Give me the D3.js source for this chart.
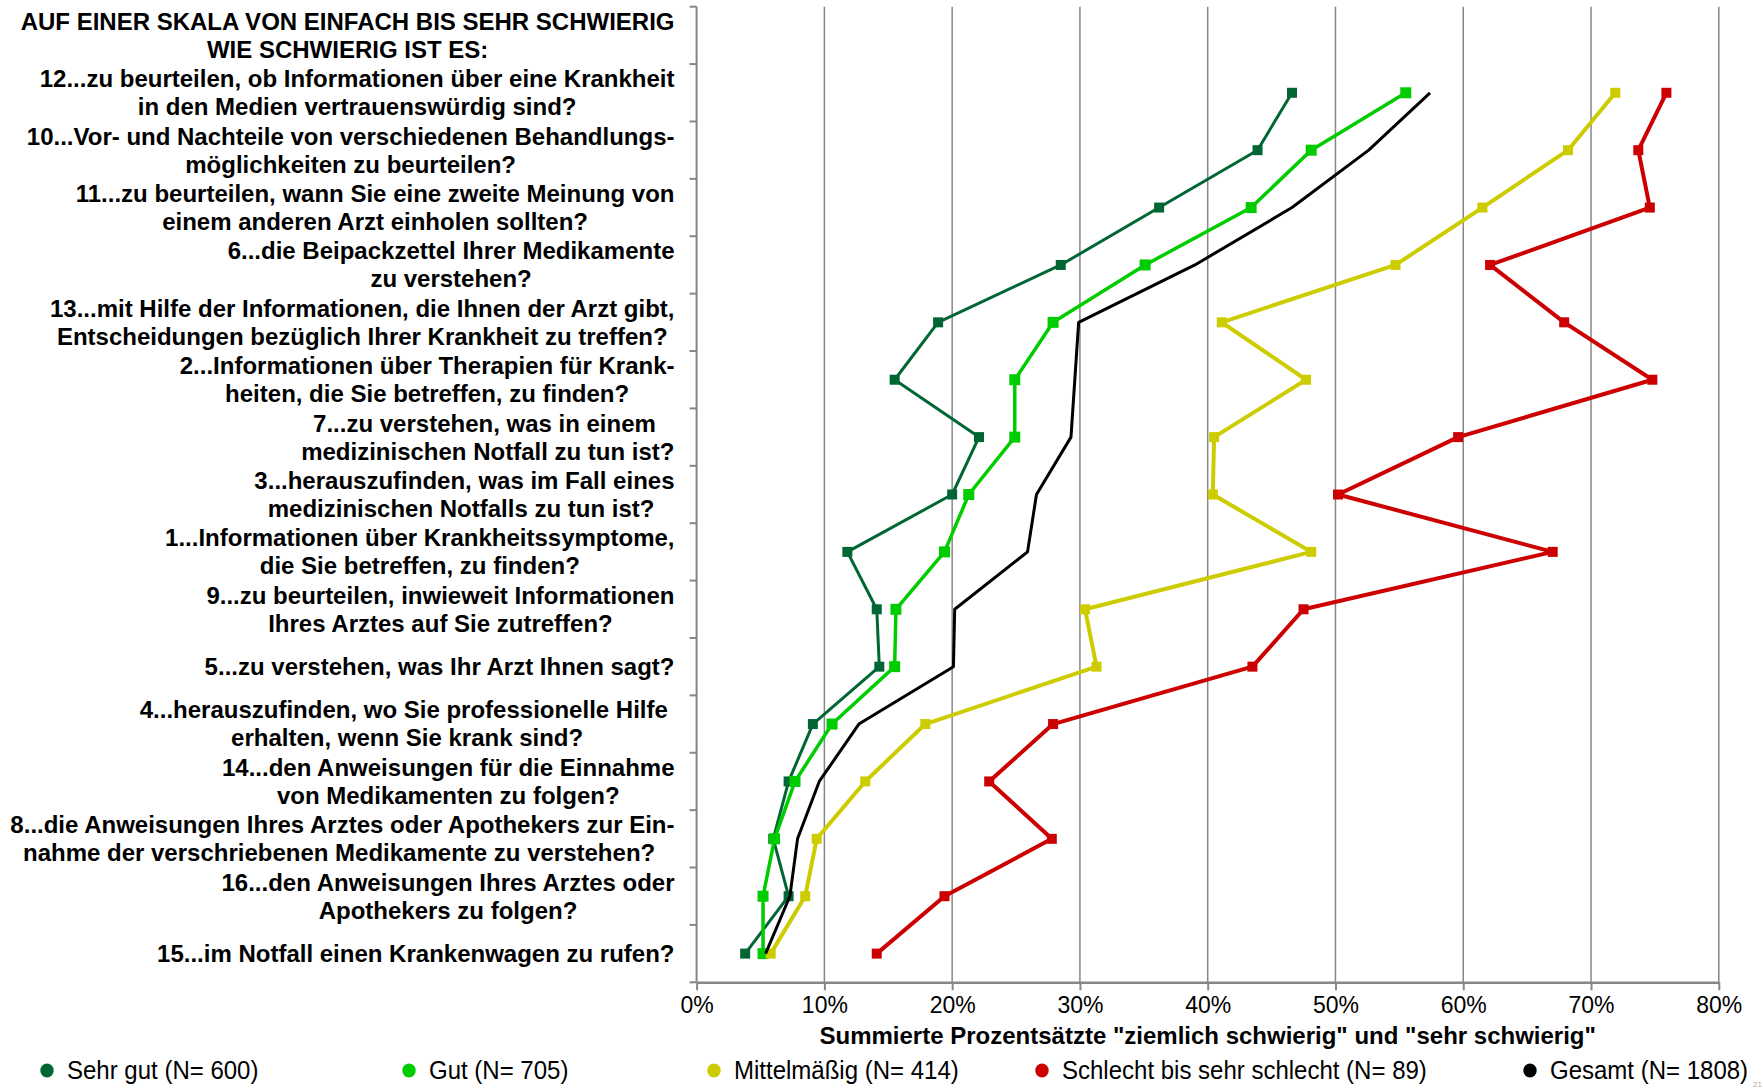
<!DOCTYPE html>
<html>
<head>
<meta charset="utf-8">
<script src="https://cdn.jsdelivr.net/npm/d3@7"></script>
<style>
  html, body { margin: 0; padding: 0; background: #fff; }
  svg { display: block; }
  text { font-family: "Liberation Sans", Arial, sans-serif; }
</style>
</head>
<body>
<svg id="chart" width="1763" height="1089"></svg>
<script>
// ---------- DATA ----------
const categories = [
  ["AUF EINER SKALA VON EINFACH BIS SEHR SCHWIERIG", "WIE SCHWIERIG IST ES:"],
  ["12...zu beurteilen, ob Informationen über eine Krankheit", "in den Medien vertrauenswürdig sind?"],
  ["10...Vor- und Nachteile von verschiedenen Behandlungs-", "möglichkeiten zu beurteilen?"],
  ["11...zu beurteilen, wann Sie eine zweite Meinung von", "einem anderen Arzt einholen sollten?"],
  ["6...die Beipackzettel Ihrer Medikamente", "zu verstehen?"],
  ["13...mit Hilfe der Informationen, die Ihnen der Arzt gibt,", "Entscheidungen bezüglich Ihrer Krankheit zu treffen?"],
  ["2...Informationen über Therapien für Krank-", "heiten, die Sie betreffen, zu finden?"],
  ["7...zu verstehen, was in einem ", "medizinischen Notfall zu tun ist?"],
  ["3...herauszufinden, was im Fall eines", "medizinischen Notfalls zu tun ist? "],
  ["1...Informationen über Krankheitssymptome,", "die Sie betreffen, zu finden?"],
  ["9...zu beurteilen, inwieweit Informationen", "Ihres Arztes auf Sie zutreffen?"],
  ["5...zu verstehen, was Ihr Arzt Ihnen sagt?"],
  ["4...herauszufinden, wo Sie professionelle Hilfe ", "erhalten, wenn Sie krank sind?"],
  ["14...den Anweisungen für die Einnahme", "von Medikamenten zu folgen?"],
  ["8...die Anweisungen Ihres Arztes oder Apothekers zur Ein-", "nahme der verschriebenen Medikamente zu verstehen? "],
  ["16...den Anweisungen Ihres Arztes oder", "Apothekers zu folgen?"],
  ["15...im Notfall einen Krankenwagen zu rufen?"]
];
// data rows correspond to categories[1..16]
const sehrGut  = [46.6, 43.9, 36.2, 28.5, 18.9, 15.5, 22.1, 20.0, 11.8, 14.1, 14.3, 9.1, 7.2, 6.0, 7.2, 3.8];
const gut      = [55.5, 48.1, 43.4, 35.1, 27.9, 24.9, 24.9, 21.3, 19.4, 15.6, 15.5, 10.6, 7.7, 6.1, 5.2, 5.2];
const mittel   = [71.9, 68.2, 61.5, 54.7, 41.1, 47.7, 40.5, 40.4, 48.1, 30.4, 31.3, 17.9, 13.2, 9.4, 8.5, 5.8];
const schlecht = [75.9, 73.7, 74.6, 62.1, 67.9, 74.8, 59.6, 50.2, 67.0, 47.5, 43.5, 27.9, 22.9, 27.8, 19.4, 14.1];
const gesamt   = [57.4, 52.6, 46.6, 39.0, 29.9, 29.6, 29.3, 26.6, 25.9, 20.2, 20.1, 12.7, 9.6, 7.9, 7.3, 5.4];

const seriesNames = ["Sehr gut (N= 600)", "Gut (N= 705)", "Mittelmäßig (N= 414)", "Schlecht bis sehr schlecht (N= 89)", "Gesamt (N= 1808)"];
const xTicks = [0, 10, 20, 30, 40, 50, 60, 70, 80];
const xTitle = 'Summierte Prozentsätzte "ziemlich schwierig" und "sehr schwierig"';
const pageNumber = "21";

// ---------- STYLE / LAYOUT ----------
const seriesStyle = [
  { color: "#006633", width: 3,   marker: 10 },
  { color: "#00CC00", width: 3.5, marker: 11 },
  { color: "#CCCC00", width: 4,   marker: 10 },
  { color: "#CC0000", width: 4,   marker: 10 },
  { color: "#000000", width: 3,   marker: 0 }
];
const legendX = [47, 409, 714, 1042, 1530];
const plot = { left: 696.6, right: 1718.8, top: 6.7, bottom: 982.3 };
const labelRight = 674.5;
const axisColor = "#878787";

const svg = d3.select("#chart");

const x = d3.scaleLinear().domain([0, 80]).range([plot.left, plot.right]);
const y = d3.scaleBand().domain(d3.range(categories.length)).range([plot.top, plot.bottom]).padding(0);
const yc = i => y(i) + y.bandwidth() / 2;

// gridlines
svg.append("g").selectAll("line")
  .data(xTicks.filter(d => d > 0))
  .join("line")
  .attr("x1", d => x(d)).attr("x2", d => x(d))
  .attr("y1", plot.top).attr("y2", plot.bottom)
  .attr("stroke", axisColor).attr("stroke-width", 1.5);

// y axis line + ticks at band boundaries
const yAxis = svg.append("g");
yAxis.append("line")
  .attr("x1", plot.left).attr("x2", plot.left)
  .attr("y1", plot.top).attr("y2", plot.bottom)
  .attr("stroke", axisColor).attr("stroke-width", 2);
yAxis.selectAll("line.tick")
  .data(d3.range(categories.length + 1))
  .join("line").attr("class", "tick")
  .attr("x1", plot.left - 7).attr("x2", plot.left)
  .attr("y1", i => plot.top + i * y.step()).attr("y2", i => plot.top + i * y.step())
  .attr("stroke", axisColor).attr("stroke-width", 2);

// x axis
const xAxisG = svg.append("g")
  .attr("transform", `translate(0,${plot.bottom})`)
  .call(d3.axisBottom(x).tickValues(xTicks).tickSize(8).tickSizeOuter(0).tickPadding(6)
    .tickFormat(d => d + "%"));
xAxisG.select(".domain").attr("stroke", axisColor).attr("stroke-width", 2.5);
xAxisG.selectAll(".tick line").attr("stroke", axisColor).attr("stroke-width", 2);
xAxisG.selectAll(".tick text")
  .attr("font-family", '"Liberation Sans", Arial, sans-serif')
  .attr("font-size", 23).attr("fill", "#000").attr("dy", "0.71em");

// x axis title
svg.append("text")
  .attr("x", (plot.left + plot.right) / 2).attr("y", 1044)
  .attr("text-anchor", "middle")
  .attr("font-size", 24).attr("font-weight", "bold")
  .text(xTitle);

// category labels (multi-line, lines centered, block right-aligned)
const measurer = svg.append("text")
  .attr("font-size", 24).attr("font-weight", "bold")
  .style("white-space", "pre").attr("x", -9999).attr("y", -9999);
function measure(s) { measurer.text(s); return measurer.node().getComputedTextLength(); }

const labelG = svg.append("g");
categories.forEach((lines, i) => {
  const widths = lines.map(measure);
  const W = d3.max(widths);
  const n = lines.length;
  lines.forEach((ln, k) => {
    const offset = (k - (n - 1) / 2) * 28;
    labelG.append("text")
      .attr("x", labelRight - W / 2 - widths[k] / 2)
      .attr("y", yc(i) + offset + 8.4)
      .attr("font-size", 24).attr("font-weight", "bold")
      .style("white-space", "pre")
      .text(ln);
  });
});

// series
const allSeries = [sehrGut, gut, mittel, schlecht, gesamt];
const line = d3.line().x(d => x(d.v)).y(d => yc(d.i));
allSeries.forEach((vals, s) => {
  const st = seriesStyle[s];
  const pts = vals.map((v, j) => ({ v, i: j + 1 }));
  const g = svg.append("g");
  g.append("path")
    .datum(pts)
    .attr("d", line)
    .attr("fill", "none")
    .attr("stroke", st.color)
    .attr("stroke-width", st.width)
    .attr("stroke-linejoin", "round");
  if (st.marker > 0) {
    g.selectAll("rect")
      .data(pts)
      .join("rect")
      .attr("x", d => x(d.v) - st.marker / 2)
      .attr("y", d => yc(d.i) - st.marker / 2)
      .attr("width", st.marker).attr("height", st.marker)
      .attr("fill", st.color);
  }
});

// legend (taller, condensed text like the reference)
measurer.attr("font-weight", "normal");
const legend = svg.append("g");
seriesNames.forEach((name, s) => {
  const w = measure(name);
  legend.append("ellipse")
    .attr("cx", legendX[s]).attr("cy", 1070.5)
    .attr("rx", 6.7).attr("ry", 7)
    .attr("fill", seriesStyle[s].color);
  legend.append("text")
    .attr("x", legendX[s] + 20).attr("y", 1079)
    .attr("font-size", 25.5)
    .attr("textLength", w).attr("lengthAdjust", "spacingAndGlyphs")
    .text(name);
});
measurer.remove();

// small grey page number at bottom right corner
svg.append("text")
  .attr("x", 1762).attr("y", 1087)
  .attr("text-anchor", "end")
  .attr("font-size", 8).attr("fill", "#b0b0b0")
  .text(pageNumber);
</script>
</body>
</html>
